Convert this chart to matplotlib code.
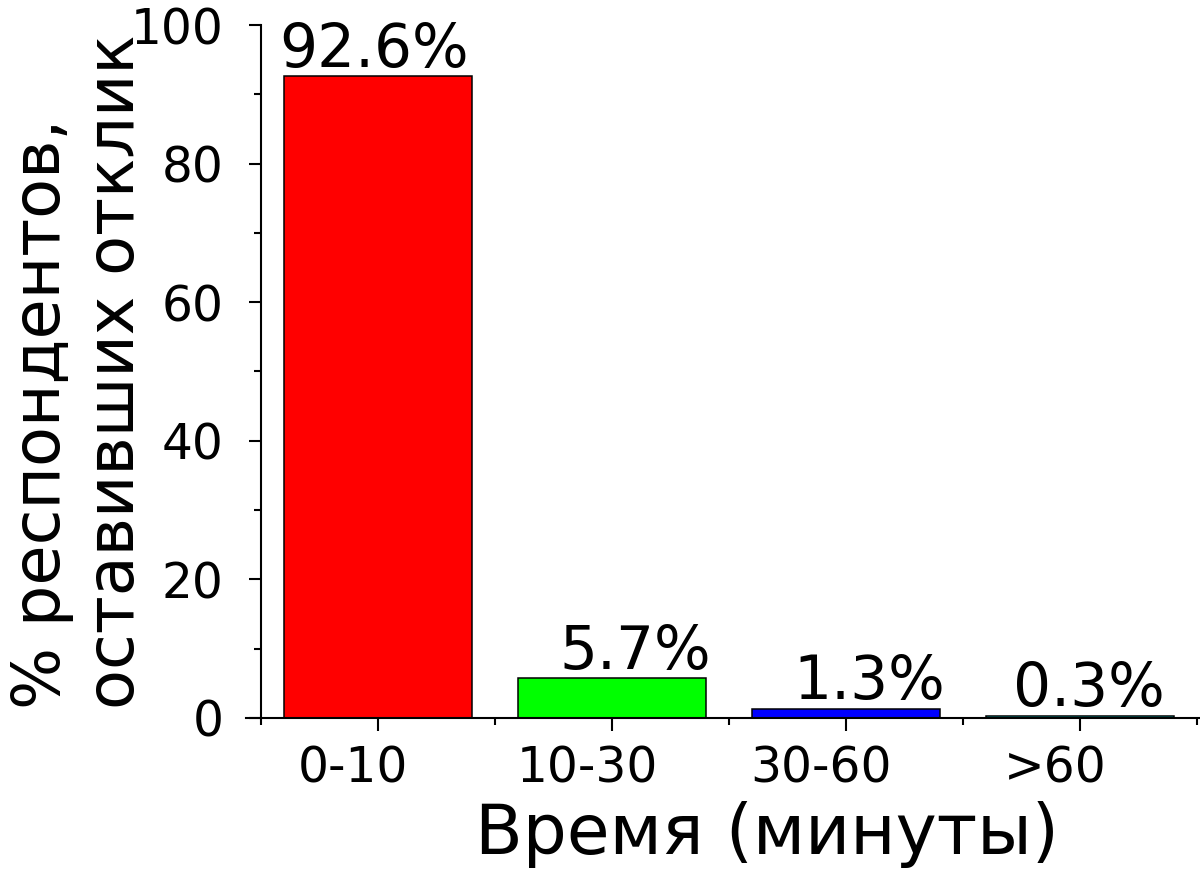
import matplotlib
matplotlib.use("Agg")
import matplotlib.pyplot as plt
import numpy as np
from matplotlib.ticker import MultipleLocator, FixedLocator
from matplotlib.transforms import ScaledTranslation

categories = ["0-10", "10-30", "30-60", ">60"]
values = [92.6, 5.7, 1.3, 0.3]
labels = ["92.6%", "5.7%", "1.3%", "0.3%"]
colors = ["#ff0000", "#00ff00", "#0000ff", "#00ffff"]
# small horizontal shifts of the value labels, in category units
label_shift = [-0.017, 0.1, 0.1, 0.04]

plt.rcParams["font.family"] = ["DejaVu Sans"]

fig = plt.figure(figsize=(12, 8.69), dpi=100)
ax = fig.add_axes([0.205, 0.1738, 0.795, 0.7974])

x = np.arange(len(categories))
ax.bar(x, values, width=0.8, color=colors, edgecolor="black", linewidth=1.1)

for i, (v, t) in enumerate(zip(values, labels)):
    ax.annotate(t, (x[i] + label_shift[i], v), xytext=(0, 7),
                textcoords="offset points", ha="center", va="baseline",
                fontsize=43)

ax.set_xlim(-0.5 - 15 / 234, 3.5 + 3 / 234)
ax.set_ylim(0, 100)

ax.spines["top"].set_visible(False)
ax.spines["right"].set_visible(False)
ax.spines["left"].set_position(("data", -0.5))
for s in ["left", "bottom"]:
    ax.spines[s].set_linewidth(1.5)

ax.set_xticks(x)
ax.set_xticklabels(categories)
ax.xaxis.set_minor_locator(FixedLocator(np.arange(-0.5, 4, 1.0)))
ax.yaxis.set_major_locator(MultipleLocator(20))
ax.yaxis.set_minor_locator(MultipleLocator(10))

ax.tick_params(axis="both", which="major", direction="out", length=9,
               width=1.5, labelsize=35)
ax.tick_params(axis="both", which="minor", direction="out", length=5,
               width=1.5)
ax.tick_params(axis="x", which="major", pad=10)
ax.tick_params(axis="y", which="major", pad=18)

# x tick labels sit a bit left of their ticks in the original
shift = ScaledTranslation(-0.25, 0, fig.dpi_scale_trans)
for lab in ax.get_xticklabels():
    lab.set_transform(lab.get_transform() + shift)

ax.set_xlabel("Время (минуты)", fontsize=50)
ax.xaxis.label.set_va("baseline")
ax.xaxis.set_label_coords(0.546, -0.196)

ax.set_ylabel("% респондентов,\nоставивших отклик", fontsize=47,
              multialignment="left", linespacing=1.2)
ax.yaxis.set_label_coords(-0.103, 0.5)

fig.savefig("out.png", dpi=100)
